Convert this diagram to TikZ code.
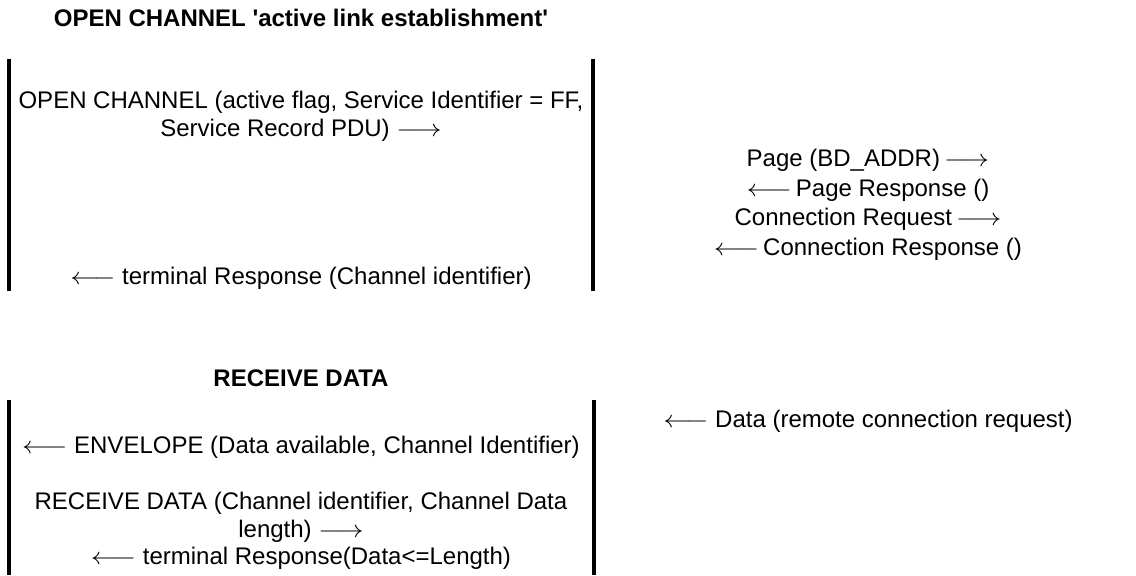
\documentclass[tikz,border=0pt]{standalone}
\usepackage{fontspec}
\setmainfont{Liberation Sans}
\usetikzlibrary{positioning}
\newcommand{\sendarrow}{\scalebox{1.17}[1]{$\longrightarrow$}}
\newcommand{\recvarrow}{\scalebox{1.17}[1]{$\longleftarrow$}}

\begin{document}
\begin{tikzpicture}[x=0.5pt, y=-0.5pt,
        nodes={font=\fontsize{12}{14}\selectfont, inner sep=0pt, align=center},
        title/.style={font=\fontsize{12}{14}\selectfont\bfseries},
        bar/.style={line width=2pt, black}]
  \useasboundingbox (0,0) rectangle (1136,575);
  % open channel
  \node[title] (opentitle) at (301,18) {OPEN CHANNEL \textquotesingle active link establishment\textquotesingle};
  \coordinate (open-lt) at (9,59);
  \coordinate (open-lb) at (9,291);
  \coordinate (open-rt) at (593,59);
  \coordinate (open-rb) at (593,291);
  \draw[bar] (open-lt) -- (open-lb);
  \draw[bar] (open-rt) -- (open-rb);
  \node (opencmd) at (301,116) {OPEN CHANNEL (active flag, Service Identifier = FF,\\
    Service Record PDU) \sendarrow};
  \node (openresp) at (301,278) {\recvarrow{} terminal Response (Channel identifier)};
  \foreach \n/\y/\t in {pagereq/160/{Page (BD\_ADDR)\,\sendarrow},
                        pageresp/190/{\recvarrow\,Page Response ()},
                        connreq/219/{Connection Request\,\sendarrow},
                        connresp/249/{\recvarrow\,Connection Response ()}} {
    \node (\n) at (868,\y) {\t};
  };
  % receive data
  \node[title] (recvtitle) at (301,378) {RECEIVE DATA};
  \coordinate (recv-lt) at (9,400);
  \coordinate (recv-lb) at (9,575);
  \coordinate (recv-rt) at (594,400);
  \coordinate (recv-rb) at (594,575);
  \draw[bar] (recv-lt) -- (recv-lb);
  \draw[bar] (recv-rt) -- (recv-rb);
  \node (envelope) at (301,447) {\recvarrow{} ENVELOPE (Data available, Channel Identifier)};
  \node (recvcmd) at (301,517) {RECEIVE DATA (Channel identifier, Channel Data\\
    length) \sendarrow};
  \node (recvresp) at (301,558) {\recvarrow{} terminal Response(Data<=Length)};
  \node (remote) at (868,421) {\recvarrow{} Data (remote connection request)};
\end{tikzpicture}
\end{document}
